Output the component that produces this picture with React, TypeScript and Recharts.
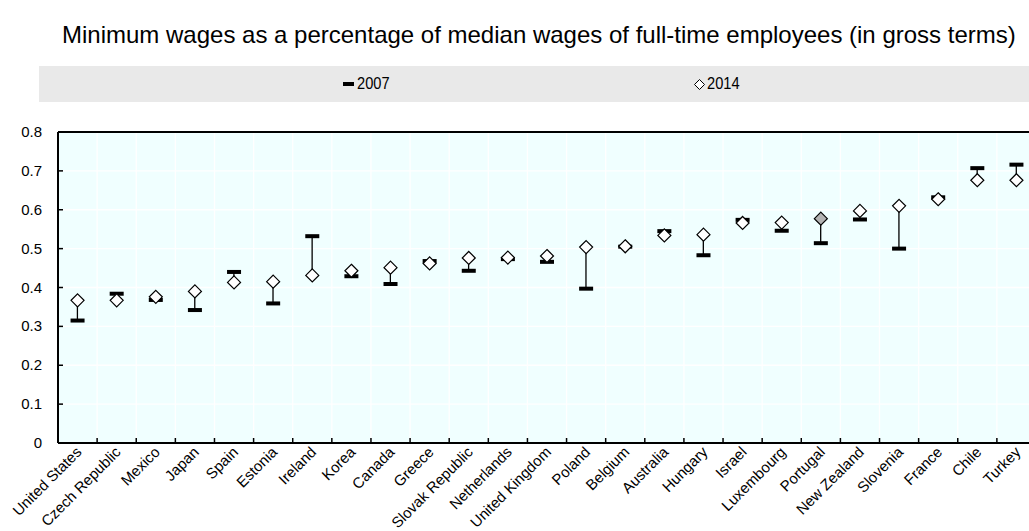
import { ComposedChart, Bar, Line, XAxis, YAxis, CartesianGrid, ReferenceLine } from "recharts";

const countries = [
  "United States", "Czech Republic", "Mexico", "Japan", "Spain", "Estonia", "Ireland",
  "Korea", "Canada", "Greece", "Slovak Republic", "Netherlands", "United Kingdom", "Poland",
  "Belgium", "Australia", "Hungary", "Israel", "Luxembourg", "Portugal", "New Zealand",
  "Slovenia", "France", "Chile", "Turkey",
];
const wages2007 = [
  0.315, 0.384, 0.368, 0.342, 0.44, 0.359, 0.532, 0.429, 0.409, 0.468, 0.443, 0.473, 0.466,
  0.397, 0.505, 0.545, 0.483, 0.574, 0.546, 0.514, 0.575, 0.5, 0.632, 0.707, 0.716,
];
const wages2014 = [
  0.367, 0.367, 0.376, 0.39, 0.413, 0.415, 0.431, 0.443, 0.451, 0.462, 0.476, 0.477, 0.481,
  0.504, 0.506, 0.534, 0.536, 0.566, 0.567, 0.577, 0.597, 0.61, 0.627, 0.676, 0.676,
];
const highlighted = ["Portugal"];
const yTicks = [0, 0.1, 0.2, 0.3, 0.4, 0.5, 0.6, 0.7, 0.8];

const data = countries.map((country, i) => ({
  country,
  v2007: wages2007[i],
  v2014: wages2014[i],
  range: [Math.min(wages2007[i], wages2014[i]), Math.max(wages2007[i], wages2014[i])],
}));

const CHART_W = 1040;
const CHART_H = 531;
const PLOT_LEFT = 58;
const PLOT_TOP = 132;
const PLOT_BOTTOM = 443;
const RIGHT = 4;
const band = (CHART_W - PLOT_LEFT - RIGHT) / countries.length;
const FONT = "Arial, 'Liberation Sans', sans-serif";

function CountryTick(props: any) {
  const { x, payload } = props;
  const tx = x + 5;
  const ty = PLOT_BOTTOM + 10;
  return (
    <g>
      <line x1={x + band / 2} x2={x + band / 2} y1={PLOT_BOTTOM} y2={PLOT_BOTTOM - 5} stroke="#000" strokeWidth={1.5} />
      <text
        x={tx}
        y={ty}
        transform={`rotate(-45 ${tx} ${ty})`}
        textAnchor="end"
        fontSize={15}
        fontFamily={FONT}
        fill="#000"
      >
        {payload.value}
      </text>
    </g>
  );
}

function ValueTick(props: any) {
  const { y, payload } = props;
  return (
    <g>
      <line x1={PLOT_LEFT} x2={PLOT_LEFT + 5} y1={y} y2={y} stroke="#000" strokeWidth={1.5} />
      <text x={PLOT_LEFT - 16} y={y + 5} textAnchor="end" fontSize={15} fontFamily={FONT} fill="#000">
        {payload.value}
      </text>
    </g>
  );
}

function Marker2007(props: any) {
  const { cx, cy, index } = props;
  if (cx == null || cy == null) return <g key={index} />;
  return <rect key={index} x={cx - 7} y={cy - 2} width={14} height={4} fill="#000" />;
}

function Marker2014(props: any) {
  const { cx, cy, index, payload } = props;
  if (cx == null || cy == null) return <g key={index} />;
  const r = 6.5;
  const fill = highlighted.includes(payload.country) ? "#b3b3b3" : "#fff";
  return (
    <path
      key={index}
      d={`M${cx} ${cy - r} L${cx + r} ${cy} L${cx} ${cy + r} L${cx - r} ${cy} Z`}
      fill={fill}
      stroke="#000"
      strokeWidth={1.2}
    />
  );
}

function Connector(props: any) {
  const { x, y, width, height } = props;
  const cx = x + width / 2;
  return <line x1={cx} x2={cx} y1={y} y2={y + height} stroke="#000" strokeWidth={1.3} />;
}

const legendText = {
  display: "inline-block",
  transform: "scaleX(0.86)",
  transformOrigin: "left center",
};

export default function App() {
  return (
    <div style={{ position: "fixed", left: 0, top: 0, width: 1029, height: 531, overflow: "hidden", background: "#fff", fontFamily: FONT }}>
      <div style={{ position: "absolute", left: 62, top: 21, fontSize: 24, color: "#000", whiteSpace: "nowrap" }}>
        Minimum wages as a percentage of median wages of full-time employees (in gross terms)
      </div>
      <div style={{ position: "absolute", left: 39, top: 66, width: 1000, height: 36, background: "#e9e9e9" }}>
        <div style={{ position: "absolute", left: 304, top: 8, display: "flex", alignItems: "center", fontSize: 17 }}>
          <span style={{ display: "inline-block", width: 11, height: 4, background: "#000", marginRight: 3 }} />
          <span style={legendText}>2007</span>
        </div>
        <div style={{ position: "absolute", left: 654, top: 8, display: "flex", alignItems: "center", fontSize: 17 }}>
          <svg width={13} height={13} style={{ marginRight: 1 }}>
            <path d="M6.5 1.5 L11.5 6.5 L6.5 11.5 L1.5 6.5 Z" fill="#fff" stroke="#000" strokeWidth={1} />
          </svg>
          <span style={legendText}>2014</span>
        </div>
      </div>
      <div style={{ position: "absolute", left: 0, top: 0 }}>
        <ComposedChart
          width={CHART_W}
          height={CHART_H}
          data={data}
          margin={{ top: PLOT_TOP, right: RIGHT, bottom: 0, left: 0 }}
        >
          <CartesianGrid
            fill="#f0ffff"
            stroke="#ffffff"
            strokeWidth={1.3}
            verticalCoordinatesGenerator={({ offset }: any) =>
              countries.map((_, i) => offset.left + i * band)
            }
          />
          <XAxis
            dataKey="country"
            interval={0}
            height={CHART_H - PLOT_BOTTOM}
            tickLine={false}
            axisLine={{ stroke: "#000", strokeWidth: 2 }}
            tick={<CountryTick />}
          />
          <YAxis
            width={PLOT_LEFT}
            domain={[0, 0.8]}
            ticks={yTicks}
            tickLine={false}
            axisLine={{ stroke: "#000", strokeWidth: 2 }}
            tick={<ValueTick />}
          />
          <ReferenceLine y={0.8} stroke="#000" strokeWidth={2} />
          <Bar dataKey="range" shape={<Connector />} isAnimationActive={false} />
          <Line
            dataKey="v2007"
            stroke="none"
            strokeWidth={0}
            dot={(p: any) => <Marker2007 key={p.index} {...p} />}
            activeDot={false}
            isAnimationActive={false}
          />
          <Line
            dataKey="v2014"
            stroke="none"
            strokeWidth={0}
            dot={(p: any) => <Marker2014 key={p.index} {...p} />}
            activeDot={false}
            isAnimationActive={false}
          />
        </ComposedChart>
      </div>
    </div>
  );
}
